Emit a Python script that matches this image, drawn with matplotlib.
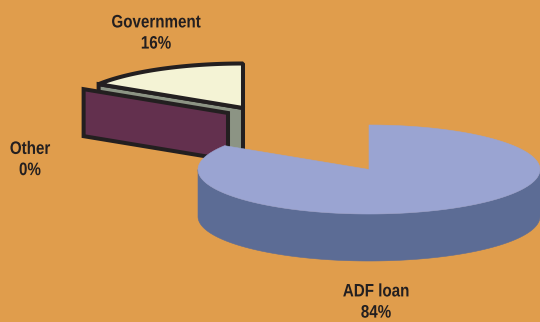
import numpy as np
import matplotlib
matplotlib.use("Agg")
import matplotlib.pyplot as plt
from matplotlib.patches import Polygon
from matplotlib.patheffects import AbstractPathEffect
from matplotlib.transforms import Affine2D

categories = ["ADF loan", "Government", "Other"]
shares = [84, 16, 0]
share_labels = ["84%", "16%", "0%"]

BG = "#E09D4C"
EDGE = "#231F20"
RX, RY, DEPTH = 171, 44.5, 47
OUTLINE = 2.9


class Squeeze(AbstractPathEffect):
    """Narrows glyphs horizontally about a fixed x position, in pixels."""

    def __init__(self, cx, sx):
        super().__init__()
        self.cx, self.sx = cx, sx

    def draw_path(self, renderer, gc, tpath, affine, rgbFace=None):
        squeeze = Affine2D().translate(-self.cx, 0).scale(self.sx, 1).translate(self.cx, 0)
        renderer.draw_path(gc, tpath, affine + squeeze, rgbFace)


def rim(center, start, end, n=240):
    """Points along the elliptical rim, angles clockwise from 12 o'clock."""
    t = np.radians(np.linspace(start, end, n))
    return np.column_stack([center[0] + RX * np.sin(t), center[1] - RY * np.cos(t)])


def draw_wedge(ax, center, start, end, top, side, edge=None, lw=0, z=1):
    # front wall of the disc, only where the rim faces the viewer
    a, b = max(start, 90), min(end, 270)
    if a < b:
        arc = rim(center, a, b)
        wall = np.vstack([arc, arc[::-1] + [0, DEPTH]])
        ax.add_patch(Polygon(wall, closed=True, fc=side, ec=side, lw=0.4, zorder=z))
    pts = np.vstack([[center], rim(center, start, end)])
    ax.add_patch(Polygon(pts, closed=True, fc=top, ec=edge or top, lw=lw or 0.4,
                         joinstyle="bevel", zorder=z + 0.1))


def draw_cut_face(ax, center, angle, color, z):
    # flat radial face left visible by a slice pulled out of the disc
    tip = rim(center, angle, angle, 1)[0]
    pts = [center, tip, tip + [0, DEPTH], (center[0], center[1] + DEPTH)]
    ax.add_patch(Polygon(pts, closed=True, fc=color, ec=EDGE, lw=OUTLINE,
                         joinstyle="miter", zorder=z))


fig = plt.figure(figsize=(5.4, 3.22), dpi=100, facecolor=BG)
ax = fig.add_axes([0, 0, 1, 1])
ax.set_xlim(0, 540)
ax.set_ylim(322, 0)
ax.axis("off")

angles = np.cumsum([0] + shares) * 3.6

gov_center = (243, 108)
other_center = (228, 113)
adf_center = (369, 169.5)

draw_cut_face(ax, gov_center, angles[1], "#8C9484", 1)
draw_wedge(ax, gov_center, angles[1], angles[2], "#F4F3D5", "#8C9484",
           edge=EDGE, lw=OUTLINE, z=2)
draw_cut_face(ax, other_center, angles[1], "#63304E", 3)
draw_wedge(ax, adf_center, angles[0], angles[1], "#9AA4D2", "#5C6C95", z=4)

label_pos = [(376, 302.5), (156, 33.5), (30, 160)]
for name, share, (x, y) in zip(categories, share_labels, label_pos):
    ax.text(x, y, f"{name}\n{share}", family="Liberation Sans", weight="bold",
            fontsize=13, color=EDGE, ha="center", va="center", zorder=6,
            linespacing=1.32, path_effects=[Squeeze(x, 0.84)])

fig.savefig("out.png", dpi=100, facecolor=BG)
